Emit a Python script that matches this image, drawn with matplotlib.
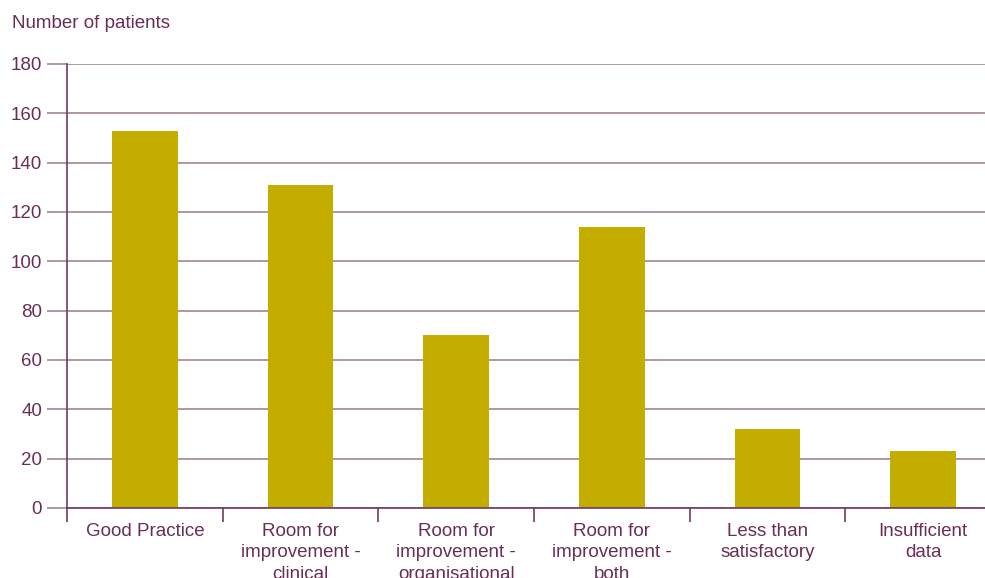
import matplotlib
matplotlib.use("Agg")
import matplotlib.pyplot as plt
import numpy as np

categories = ["Good Practice", "Room for\nimprovement -\nclinical", "Room for\nimprovement -\norganisational",
              "Room for\nimprovement -\nboth", "Less than\nsatisfactory", "Insufficient\ndata"]
values = [153, 131, 70, 114, 32, 23]
yticks = [0, 20, 40, 60, 80, 100, 120, 140, 160, 180]

text_color = "#6A2E55"
grid_color = "#A08496"
spine_color = "#6E3A5E"
bar_color = "#C2AD00"

plt.rcParams['font.family'] = ['Liberation Sans', 'DejaVu Sans']

fig = plt.figure(figsize=(9.85, 5.78), dpi=100)
W, H = 985, 578
ax = fig.add_axes([67 / W, 1 - 508 / H, (1001 - 67) / W, (508 - 64) / H])

x = np.arange(len(categories))
ax.bar(x, values, width=0.42, color=bar_color, zorder=3)

ax.set_xlim(-0.5, len(categories) - 0.5)
ax.set_ylim(0, 180)
ax.set_yticks(yticks)
ax.set_yticklabels([str(v) for v in yticks])
ax.yaxis.grid(True, color=grid_color, linewidth=1.2, zorder=0)
ax.tick_params(axis='y', length=14.4, width=1.2, color=grid_color, labelsize=13.5, labelcolor=text_color, pad=3.5)

ax.set_xticks(x)
ax.set_xticklabels(categories, linespacing=1.32)
ax.tick_params(axis='x', which='major', length=0, labelsize=13.5, labelcolor=text_color, pad=11)
ax.set_xticks(np.arange(-0.5, len(categories) + 0.5, 1), minor=True)
ax.tick_params(axis='x', which='minor', length=10, width=1.2, color=spine_color)

for s in ['top', 'right']:
    ax.spines[s].set_visible(False)
ax.spines['left'].set_color(spine_color)
ax.spines['left'].set_linewidth(1.2)
ax.spines['bottom'].set_color(spine_color)
ax.spines['bottom'].set_linewidth(1.2)
ax.spines['bottom'].set_zorder(4)

fig.text(12 / W, 1 - 23.5 / H, "Number of patients", color=text_color, fontsize=13.5,
         ha='left', va='center')

fig.savefig("out.png", dpi=100)
